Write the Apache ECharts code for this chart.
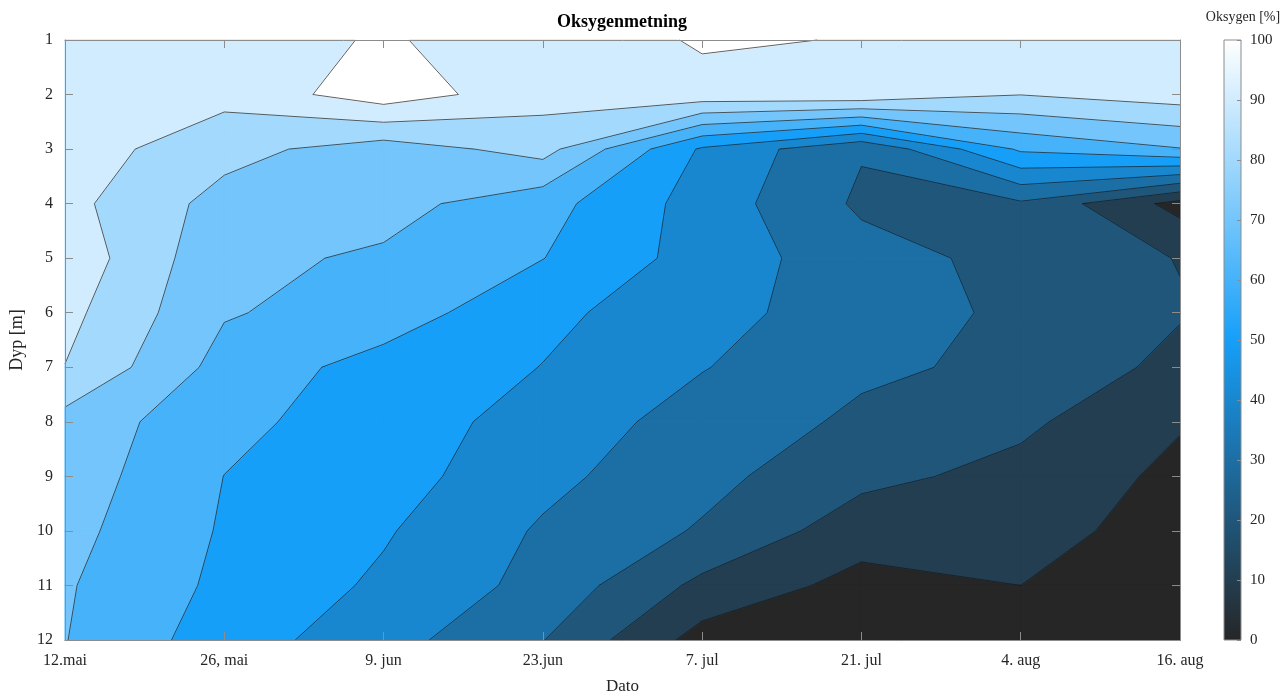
<!DOCTYPE html>
<html><head><meta charset="utf-8">
<script src="https://cdn.jsdelivr.net/npm/echarts@6/dist/echarts.min.js"></script>
<style>html,body{margin:0;padding:0;background:#fff}#c{width:1282px;height:697px}</style>
</head><body><div id="c"></div>
<script>
// ---- data ----
const dateLabels = ['12.mai', '26, mai', '9. jun', '23.jun', '7. jul', '21. jul', '4. aug', '16. aug'];
const depths = [1, 2, 3, 4, 5, 6, 7, 8, 9, 10, 11, 12];
// oxygen saturation [%] per sampling date, depth 1..12 m
const o2_12mai = [95.5, 95.5, 95.2, 93.1, 96.9, 93.0, 89.8, 76.4, 75.4, 73.1, 71.0, 70.3];
const o2_26mai = [93.0, 93.1, 83.4, 76.3, 72.4, 70.8, 66.3, 62.8, 59.9, 59.0, 57.8, 54.9];
const o2_09jun = [101.5, 105.5, 75.0, 73.5, 68.6, 65.5, 56.0, 54.5, 54.3, 51.0, 48.3, 43.9];
const o2_23jun = [92.1, 93.8, 83.8, 63.8, 60.2, 52.0, 49.8, 46.5, 42.7, 38.8, 36.8, 30.3];
const o2_07jul = [101.3, 96.2, 48.6, 45.9, 46.0, 44.9, 40.5, 35.5, 33.0, 29.0, 17.5, 6.0];
const o2_21jul = [99.5, 97.4, 30.8, 28.3, 34.0, 32.9, 31.6, 28.3, 22.6, 14.5, 6.6, 3.0];
const o2_04aug = [96.0, 90.2, 61.6, 28.5, 26.9, 28.8, 28.1, 22.0, 17.0, 14.0, 10.0, 7.0];
const o2_16aug = [95.0, 94.8, 69.5, 6.5, 19.6, 20.8, 17.0, 10.8, 7.6, 5.5, 4.0, 3.0];
const levels = [0, 10, 20, 30, 40, 50, 60, 70, 80, 90, 100];
const colorbarTicks = [0, 10, 20, 30, 40, 50, 60, 70, 80, 90, 100];

const columns = [o2_12mai, o2_26mai, o2_09jun, o2_23jun, o2_07jul, o2_21jul, o2_04aug, o2_16aug];

// ---- colormap ----
const CM = [[38, 38, 38], [22, 159, 249], [255, 255, 255]];
function cmap(v) {
  const t = Math.max(0, Math.min(1, v / 100));
  let a, b, u;
  if (t <= 0.5) { a = CM[0]; b = CM[1]; u = t / 0.5; } else { a = CM[1]; b = CM[2]; u = (t - 0.5) / 0.5; }
  const c = a.map((x, i) => Math.round(x + (b[i] - x) * u));
  return 'rgb(' + c.join(',') + ')';
}
const bandColors = levels.map(l => cmap(l));

function clip(poly, L, above) {
  const out = [];
  const inside = p => above ? p.v >= L : p.v < L;
  for (let i = 0; i < poly.length; i++) {
    const P = poly[i], Q = poly[(i + 1) % poly.length];
    const pi = inside(P), qi = inside(Q);
    if (pi !== qi) {
      const t = (L - P.v) / (Q.v - P.v);
      out.push({ x: P.x + (Q.x - P.x) * t, y: P.y + (Q.y - P.y) * t, v: L });
    }
    if (qi) out.push(Q);
  }
  return out;
}

function quad(c, r) {
  return [
    { x: c, y: depths[r], v: columns[c][r] },
    { x: c + 1, y: depths[r], v: columns[c + 1][r] },
    { x: c + 1, y: depths[r + 1], v: columns[c + 1][r + 1] },
    { x: c, y: depths[r + 1], v: columns[c][r + 1] }
  ];
}

const cells = [];
for (let c = 0; c < columns.length - 1; c++)
  for (let r = 0; r < depths.length - 1; r++) cells.push([c, depths[r]]);

function renderFill(params, api) {
  const c = api.value(0), r = depths.indexOf(api.value(1));
  const q = quad(c, r);
  const children = [];
  for (let k = 0; k < levels.length; k++) {
    let p = q;
    if (k > 0) p = clip(p, levels[k], true);
    if (p.length >= 3 && k < levels.length - 1) p = clip(p, levels[k + 1], false);
    if (p.length < 3) continue;
    const pts = p.map(o => api.coord([o.x, o.y]));
    children.push({ type: 'polygon', shape: { points: pts },
      style: { fill: bandColors[k], stroke: bandColors[k], lineWidth: 1.3 } });
  }
  return { type: 'group', children };
}

function renderLines(params, api) {
  const c = api.value(0), r = depths.indexOf(api.value(1));
  const q = quad(c, r);
  const children = [];
  for (let k = 1; k < levels.length; k++) {
    const L = levels[k];
    const pts = [];
    for (let i = 0; i < 4; i++) {
      const P = q[i], Q = q[(i + 1) % 4];
      if ((P.v >= L) !== (Q.v >= L)) {
        const t = (L - P.v) / (Q.v - P.v);
        pts.push([P.x + (Q.x - P.x) * t, P.y + (Q.y - P.y) * t]);
      }
    }
    let segs = [];
    if (pts.length === 2) segs = [[pts[0], pts[1]]];
    else if (pts.length === 4) {
      const mid = (q[0].v + q[1].v + q[2].v + q[3].v) / 4;
      if ((mid >= L) === (q[0].v >= L)) segs = [[pts[0], pts[1]], [pts[2], pts[3]]];
      else segs = [[pts[3], pts[0]], [pts[1], pts[2]]];
    }
    segs.forEach(s => children.push({ type: 'polyline',
      shape: { points: s.map(p => api.coord(p)) },
      style: { stroke: 'rgba(20,20,20,0.85)', lineWidth: 0.8, fill: null } }));
  }
  return { type: 'group', children };
}

const FONT = 'Liberation Serif';
const axisGray = '#8c8c8c';
const textCol = '#262626';

const chart = echarts.init(document.getElementById('c'), null, { renderer: 'canvas' });
chart.setOption({
  animation: false,
  backgroundColor: '#ffffff',
  grid: [
    { left: 65, right: 102, top: 40, bottom: 57, containLabel: false, outerBoundsMode: 'none' },
    { left: 1224, width: 17, top: 40, bottom: 57, containLabel: false, outerBoundsMode: 'none' }
  ],
  xAxis: [
    { type: 'value', gridIndex: 0, min: 0, max: dateLabels.length - 1, interval: 1, position: 'bottom', z: 10,
      axisLine: { show: true, onZero: false, lineStyle: { color: axisGray } },
      axisTick: { inside: true, length: 8, lineStyle: { color: axisGray } },
      axisLabel: { formatter: v => dateLabels[v] || '', color: textCol, fontFamily: FONT, fontSize: 16, margin: 13 },
      splitLine: { show: false },
      name: 'Dato', nameLocation: 'middle', nameGap: 38,
      nameTextStyle: { fontFamily: FONT, fontSize: 17, color: textCol } },
    { type: 'value', gridIndex: 0, min: 0, max: dateLabels.length - 1, interval: 1, position: 'top', z: 10,
      axisLine: { show: true, onZero: false, lineStyle: { color: axisGray } },
      axisTick: { inside: true, length: 8, lineStyle: { color: axisGray } },
      axisLabel: { show: false }, splitLine: { show: false } },
    { type: 'value', gridIndex: 1, min: 0, max: 1, show: false }
  ],
  yAxis: [
    { type: 'value', gridIndex: 0, min: 1, max: 12, interval: 1, inverse: true, position: 'left', z: 10,
      axisLine: { show: true, onZero: false, lineStyle: { color: axisGray } },
      axisTick: { inside: true, length: 8, lineStyle: { color: axisGray } },
      axisLabel: { color: textCol, fontFamily: FONT, fontSize: 16, margin: 12 },
      splitLine: { show: false },
      name: 'Dyp [m]', nameLocation: 'middle', nameGap: 32, nameRotate: 90,
      nameTextStyle: { fontFamily: FONT, fontSize: 18, color: textCol } },
    { type: 'value', gridIndex: 0, min: 1, max: 12, interval: 1, inverse: true, position: 'right', z: 10,
      axisLine: { show: true, onZero: false, lineStyle: { color: axisGray } },
      axisTick: { inside: true, length: 8, lineStyle: { color: axisGray } },
      axisLabel: { show: false }, splitLine: { show: false } },
    { type: 'value', gridIndex: 1, min: 0, max: 100, interval: 10, position: 'right', z: 10,
      axisLine: { show: false, onZero: false, lineStyle: { color: axisGray } },
      axisTick: { inside: true, length: 4, lineStyle: { color: axisGray } },
      axisLabel: { color: textCol, fontFamily: FONT, fontSize: 15, margin: 9,
        formatter: v => colorbarTicks.indexOf(v) >= 0 ? String(v) : '' },
      splitLine: { show: false } }
  ],
  graphic: [
    { type: 'text', x: 622, y: 22, style: { text: 'Oksygenmetning', fontFamily: FONT, fontSize: 18,
      fontWeight: 'bold', fill: '#000', align: 'center', verticalAlign: 'middle' } },
    { type: 'text', x: 1243, y: 17, style: { text: 'Oksygen [%]', fontFamily: FONT, fontSize: 14,
      fill: textCol, align: 'center', verticalAlign: 'middle' } }
  ],
  series: [
    { type: 'custom', xAxisIndex: 0, yAxisIndex: 0, data: cells, renderItem: renderFill, z: 1, silent: true },
    { type: 'custom', xAxisIndex: 0, yAxisIndex: 0, data: cells, renderItem: renderLines, z: 3, silent: true },
    { type: 'custom', xAxisIndex: 2, yAxisIndex: 2, data: [[0, 0]], z: 1, silent: true,
      renderItem: function (params, api) {
        const p0 = api.coord([0, 100]), p1 = api.coord([1, 0]);
        return { type: 'rect', shape: { x: p0[0], y: p0[1], width: p1[0] - p0[0], height: p1[1] - p0[1] },
          style: { fill: new echarts.graphic.LinearGradient(0, 0, 0, 1, [
            { offset: 0, color: cmap(100) }, { offset: 0.5, color: cmap(50) }, { offset: 1, color: cmap(0) }]),
            stroke: axisGray, lineWidth: 1 } };
      } }
  ]
});
</script></body></html>
